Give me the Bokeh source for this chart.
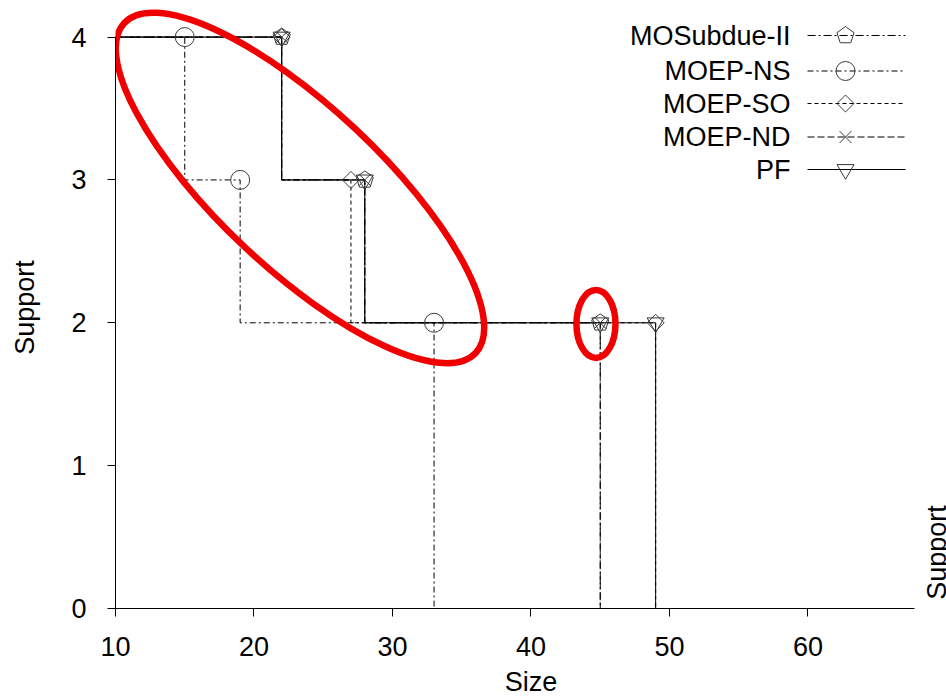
import math
from bokeh.plotting import figure
from bokeh.models import Range1d, FixedTicker
from bokeh.core.properties import value
from bokeh.embed import file_html
from bokeh.resources import INLINE

# ---------------- data ----------------
series_names = ["MOSubdue-II", "MOEP-NS", "MOEP-SO", "MOEP-ND", "PF"]
mosubdue_size = [22, 28, 45]
mosubdue_support = [4, 3, 2]
moep_ns_size = [15, 19, 33]
moep_ns_support = [4, 3, 2]
moep_so_size = [22, 27, 49]
moep_so_support = [4, 3, 2]
moep_nd_size = [22, 28, 45]
moep_nd_support = [4, 3, 2]
pf_size = [22, 28, 45, 49]
pf_support = [4, 3, 2, 2]
x_ticks = [10, 20, 30, 40, 50, 60]
y_ticks = [0, 1, 2, 3, 4]
x_axis_extent = (10, 67.69)

# highlighted regions (annotations): centre in data units
highlight_big = (23.32, 2.944)
highlight_small = (44.69, 1.992)

# ---------------- layout ----------------
W, H = 946, 699
LEFT, RIGHT, TOP, BOTTOM = 115, 0, 6, 91
PPX = 799 / (x_axis_extent[1] - x_axis_extent[0])   # pixels per x unit
X0 = x_axis_extent[0]
X1 = X0 + (W - LEFT - RIGHT) / PPX
Y0, Y1 = 0, 4.214
FH = H - TOP - BOTTOM
PPY = FH / (Y1 - Y0)   # pixels per y unit


def px2x(px):
    return X0 + (px - LEFT) / PPX


def py2y(py):
    return Y0 + (H - BOTTOM - py) / PPY


FONT = "Liberation Sans"
FS = "27px"

p = figure(width=W, height=H, x_range=Range1d(X0, X1), y_range=Range1d(Y0, Y1),
           output_backend="svg", toolbar_location=None,
           min_border_left=LEFT, min_border_right=RIGHT,
           min_border_top=TOP, min_border_bottom=BOTTOM)
p.grid.visible = False
p.outline_line_color = None
p.background_fill_color = "white"
p.border_fill_color = "white"

for ax in (p.xaxis[0], p.yaxis[0]):
    ax.major_tick_out = 8
    ax.major_tick_in = 0
    ax.minor_tick_line_color = None
    ax.axis_line_color = "black"
    ax.major_tick_line_color = "black"
    ax.axis_line_width = 1
    ax.major_label_text_font = FONT
    ax.major_label_text_font_size = FS
    ax.major_label_text_color = "black"
    ax.axis_label_text_font = FONT
    ax.axis_label_text_font_size = FS
    ax.axis_label_text_font_style = "normal"
    ax.axis_label_text_color = "black"

p.xaxis[0].ticker = FixedTicker(ticks=x_ticks)
p.yaxis[0].ticker = FixedTicker(ticks=y_ticks)
p.xaxis[0].bounds = x_axis_extent
p.yaxis[0].bounds = (min(y_ticks), max(y_ticks))
p.xaxis[0].axis_label = "Size"
p.yaxis[0].axis_label = "Support"
p.xaxis[0].major_label_standoff = 20
p.xaxis[0].axis_label_standoff = 8
p.yaxis[0].major_label_standoff = 21
p.yaxis[0].axis_label_standoff = 28
p.yaxis[0].major_label_orientation = "horizontal"


def step_path(xs, ys):
    sx = [X0, xs[0]]
    sy = [ys[0], ys[0]]
    for i in range(1, len(xs)):
        sx += [xs[i - 1], xs[i]]
        sy += [ys[i], ys[i]]
    sx.append(xs[-1])
    sy.append(0)
    return sx, sy


MCOL = "#3a3a3a"
styles = {
    "MOSubdue-II": dict(marker="pentagon", dash="8 3 2 3"),
    "MOEP-NS": dict(marker="circle", dash="6 3 2 3"),
    "MOEP-SO": dict(marker="diamond", dash="4 3"),
    "MOEP-ND": dict(marker="x", dash="7 3"),
    "PF": dict(marker="inverted_triangle", dash="solid"),
}
data = {
    "MOSubdue-II": (mosubdue_size, mosubdue_support),
    "MOEP-NS": (moep_ns_size, moep_ns_support),
    "MOEP-SO": (moep_so_size, moep_so_support),
    "MOEP-ND": (moep_nd_size, moep_nd_support),
    "PF": (pf_size, pf_support),
}


def draw_markers(kind, xs, ys):
    if kind == "pentagon":
        r = 9
        pxs, pys = [], []
        for xc, yc in zip(xs, ys):
            ang = [math.pi / 2 + 2 * math.pi * k / 5 for k in range(5)]
            pxs.append([xc + r * math.cos(a) / PPX for a in ang])
            pys.append([yc + r * math.sin(a) / PPY for a in ang])
        p.patches(pxs, pys, fill_color=None, line_color=MCOL, line_width=1)
    elif kind == "circle":
        p.scatter(xs, ys, marker="circle", size=19, fill_color=None,
                  line_color=MCOL, line_width=1)
    elif kind == "diamond":
        p.scatter(xs, ys, marker="square", size=12, angle=math.pi / 4,
                  fill_color=None, line_color=MCOL, line_width=1)
    elif kind == "x":
        p.scatter(xs, ys, marker="x", size=17, line_color=MCOL, line_width=1)
    elif kind == "inverted_triangle":
        p.scatter(xs, ys, marker="inverted_triangle", size=17, fill_color=None,
                  line_color=MCOL, line_width=1)


# step lines
for name in series_names:
    xs, ys = data[name]
    sx, sy = step_path(xs, ys)
    p.line(sx, sy, line_color="black", line_width=1, line_dash=styles[name]["dash"])

# markers
for name in series_names:
    xs, ys = data[name]
    draw_markers(styles[name]["marker"], xs, ys)

# legend (drawn manually: text left, sample right)
row_py = [35, 70.5, 103, 136.5, 169]
lx0, lx1, lxm, ltx = px2x(807), px2x(905), px2x(845), px2x(790)
for name, rpy in zip(series_names, row_py):
    yy = py2y(rpy)
    p.line([lx0, lx1], [yy, yy], line_color="black", line_width=1,
           line_dash=styles[name]["dash"])
    draw_markers(styles[name]["marker"], [lxm], [yy])
    p.text([ltx], [yy], text=[name], text_font=value(FONT),
           text_font_size=value(FS), text_align="right",
           text_baseline="middle", text_color="black")

# red highlight ellipses
p.ellipse([highlight_big[0]], [highlight_big[1]], width=482, height=162,
          width_units="screen", height_units="screen", angle=-0.754,
          fill_color=None, line_color="#f00000", line_width=6.5)
p.ellipse([highlight_small[0]], [highlight_small[1]], width=39, height=68,
          width_units="screen", height_units="screen", angle=0,
          fill_color=None, line_color="#f00000", line_width=6.5)

# label of the neighbouring panel at the right edge
p.text([px2x(936)], [py2y(552)], text=["Support"], angle=math.pi / 2,
       text_font=value(FONT), text_font_size=value(FS), text_align="center",
       text_baseline="alphabetic", text_color="black")

open("out.html", "w").write(file_html(p, INLINE))
